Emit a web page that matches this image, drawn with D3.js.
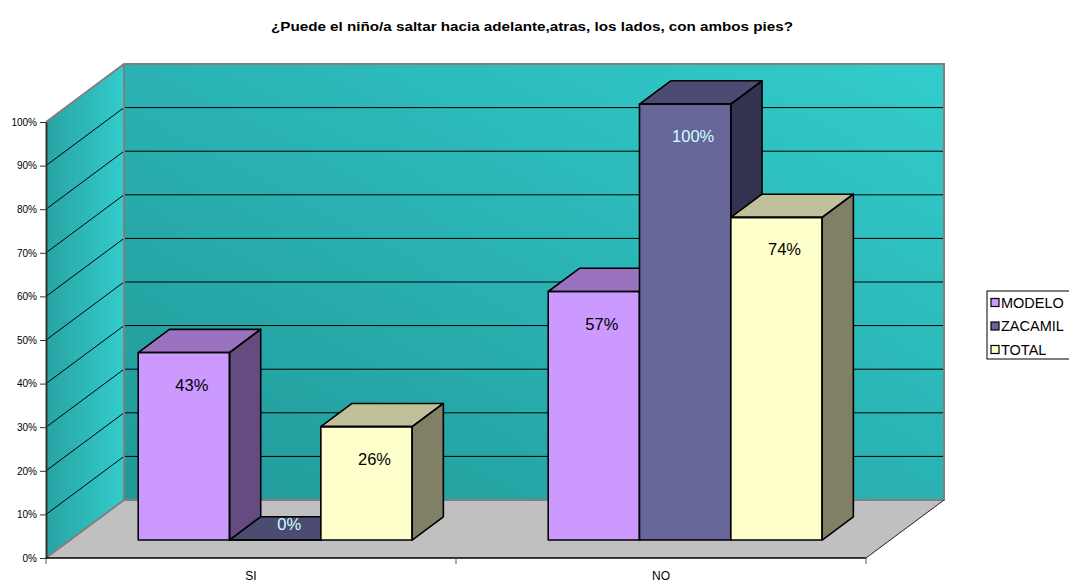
<!DOCTYPE html>
<html>
<head>
<meta charset="utf-8">
<script src="https://cdn.jsdelivr.net/npm/d3@7"></script>
<style>
  body { margin: 0; background: #fff; }
  text { font-family: Arial, "Liberation Sans", sans-serif; }
</style>
</head>
<body>
<div id="chart"></div>
<script>
const chartTitle = "¿Puede el niño/a saltar hacia adelante,atras, los lados, con ambos pies?";
const categories = ["SI", "NO"];
const seriesNames = ["MODELO", "ZACAMIL", "TOTAL"];
const modelo = [0.43, 0.57];
const zacamil = [0, 1];
const total = [0.26, 0.74];
const yTicks = [0, 0.1, 0.2, 0.3, 0.4, 0.5, 0.6, 0.7, 0.8, 0.9, 1];

const seriesValues = [modelo, zacamil, total];

function init() {
  const width = 1069, height = 583;
  const DX = 78, DY = 58;          // depth offset of the 3d box
  const zFront = 0.31, zBack = 0.71; // bar depth inside the box

  const colors = [
    { front: "#CC99FF", top: "#9A73C0", side: "#654C80", label: "#000" },
    { front: "#666699", top: "#4C4C72", side: "#333350", label: "#CCFFFF" },
    { front: "#FFFFCC", top: "#C0C09A", side: "#808066", label: "#000" }
  ];

  const svg = d3.select("#chart").append("svg")
    .attr("width", width)
    .attr("height", height);

  const defs = svg.append("defs");
  const gBack = defs.append("linearGradient").attr("id", "backGrad")
    .attr("x1", 0).attr("y1", 1).attr("x2", 1).attr("y2", 0);
  gBack.append("stop").attr("offset", "0%").attr("stop-color", "#219898");
  gBack.append("stop").attr("offset", "100%").attr("stop-color", "#33CCCC");
  const gSide = defs.append("linearGradient").attr("id", "sideGrad")
    .attr("x1", 0).attr("y1", 0).attr("x2", 1).attr("y2", 0);
  gSide.append("stop").attr("offset", "0%").attr("stop-color", "#28A3A3");
  gSide.append("stop").attr("offset", "100%").attr("stop-color", "#33CCCC");

  const x = d3.scaleBand().domain(categories).range([46, 866]);
  const xs = d3.scaleBand().domain(seriesNames)
    .range([0, x.bandwidth()]).paddingInner(0).paddingOuter(0.745);
  const y = d3.scaleLinear().domain([0, 1]).range([558, 122]);

  const P = (xf, v, z) => [xf + z * DX, y(v) - z * DY];
  const poly = pts => "M" + pts.map(p => p.join(",")).join("L") + "Z";

  // title
  svg.append("text")
    .attr("x", 532).attr("y", 31)
    .attr("text-anchor", "middle")
    .attr("textLength", 522)
    .attr("lengthAdjust", "spacingAndGlyphs")
    .style("font-size", "13px").style("font-weight", "bold")
    .text(chartTitle);

  const x0 = x.range()[0], x1 = x.range()[1];

  // side wall
  svg.append("path")
    .attr("d", poly([P(x0, 0, 0), P(x0, 1, 0), P(x0, 1, 1), P(x0, 0, 1)]))
    .attr("fill", "url(#sideGrad)");
  // back wall
  svg.append("path")
    .attr("d", poly([P(x0, 0, 1), P(x0, 1, 1), P(x1, 1, 1), P(x1, 0, 1)]))
    .attr("fill", "url(#backGrad)");
  // floor
  svg.append("path")
    .attr("d", poly([P(x0, 0, 0), P(x1, 0, 0), P(x1, 0, 1), P(x0, 0, 1)]))
    .attr("fill", "#C0C0C0");

  // gridlines
  const grid = yTicks.filter(v => v > 0 && v < 1);
  svg.append("g").selectAll("path")
    .data(grid).enter().append("path")
    .attr("d", v => "M" + P(x0, v, 0) + "L" + P(x0, v, 1) + "L" + P(x1, v, 1))
    .attr("fill", "none").attr("stroke", "#000").attr("stroke-width", 1);

  // wall borders
  svg.append("path")
    .attr("d", "M" + P(x0, 1, 0) + "L" + P(x0, 1, 1) + "L" + P(x1, 1, 1) + "L" + P(x1, 0, 1)
      + "L" + P(x0, 0, 1) + "L" + P(x0, 1, 1) + "M" + P(x0, 0, 1) + "L" + P(x0, 0, 0))
    .attr("fill", "none").attr("stroke", "#808080").attr("stroke-width", 2);
  svg.append("path")
    .attr("d", "M" + P(x1, 0, 0) + "L" + P(x1, 0, 1))
    .attr("fill", "none").attr("stroke", "#222").attr("stroke-width", 1);

  // axes
  const yAxis = svg.append("g")
    .attr("transform", "translate(" + x0 + ",0)")
    .call(d3.axisLeft(y).tickValues(yTicks).tickFormat(d3.format(".0%")).tickSize(6).tickSizeOuter(0));
  yAxis.select(".domain").attr("stroke", "#333").attr("stroke-width", 2);
  yAxis.selectAll(".tick line").attr("stroke", "#333");
  yAxis.selectAll("text").style("font-size", "10px").attr("fill", "#000")
    .attr("x", -9).attr("font-family", null);

  svg.append("line")
    .attr("x1", x0).attr("x2", x1).attr("y1", y(0)).attr("y2", y(0))
    .attr("stroke", "#000").attr("stroke-width", 1.5);
  const xTicks = [x0].concat(categories.map(c => x(c) + x.bandwidth()));
  svg.append("g").selectAll("line").data(xTicks).enter().append("line")
    .attr("x1", d => d).attr("x2", d => d)
    .attr("y1", y(0)).attr("y2", y(0) + 6)
    .attr("stroke", "#555");
  svg.append("g").selectAll("text").data(categories).enter().append("text")
    .attr("x", d => x(d) + x.bandwidth() / 2)
    .attr("y", 580)
    .attr("text-anchor", "middle")
    .style("font-size", "12px")
    .text(d => d);

  // bars, left to right
  const bars = [];
  categories.forEach((c, ci) => {
    seriesNames.forEach((s, si) => {
      bars.push({ c: c, s: s, si: si, v: seriesValues[si][ci] });
    });
  });

  const g = svg.append("g");
  bars.forEach(b => {
    const xl = x(b.c) + xs(b.s);
    const xr = xl + xs.bandwidth();
    const col = colors[b.si];
    const bg = g.append("g");
    const front = [P(xl, 0, zFront), P(xl, b.v, zFront), P(xr, b.v, zFront), P(xr, 0, zFront)];
    const top = [P(xl, b.v, zFront), P(xl, b.v, zBack), P(xr, b.v, zBack), P(xr, b.v, zFront)];
    const side = [P(xr, 0, zFront), P(xr, b.v, zFront), P(xr, b.v, zBack), P(xr, 0, zBack)];
    bg.append("path").attr("d", poly(front)).attr("fill", col.front);
    bg.append("path").attr("d", poly(top)).attr("fill", col.top);
    bg.append("path").attr("d", poly(side)).attr("fill", col.side);
    [front, top, side].forEach(p => {
      bg.append("path").attr("d", poly(p)).attr("fill", "none")
        .attr("stroke", "#000").attr("stroke-width", 1.6).attr("stroke-linejoin", "round");
    });
    const topY = P(xl, b.v, zFront)[1];
    const baseY = P(xl, 0, zFront)[1];
    const cx = (xl + xr) / 2 + zFront * DX;
    let lx, ly;
    if (baseY - topY > 40) { lx = cx + 8; ly = topY + 38; }
    else { lx = cx + 14; ly = topY - 10; }
    bg.append("text")
      .attr("x", lx).attr("y", ly)
      .attr("text-anchor", "middle")
      .style("font-size", "16.5px")
      .attr("fill", col.label)
      .text(d3.format(".0%")(b.v));
  });

  // legend
  const lg = svg.append("g").attr("transform", "translate(987,291)");
  lg.append("rect").attr("x", 0).attr("y", 0).attr("width", 100).attr("height", 68)
    .attr("fill", "#fff").attr("stroke", "#000").attr("stroke-width", 1);
  const items = lg.selectAll("g.item").data(seriesNames).enter().append("g")
    .attr("transform", (d, i) => "translate(4," + (11.5 + i * 23.5) + ")");
  items.append("rect").attr("x", 0).attr("y", -4).attr("width", 8).attr("height", 8)
    .attr("fill", (d, i) => colors[i].front).attr("stroke", "#000").attr("stroke-width", 1.2);
  items.append("text").attr("x", 10).attr("y", 5)
    .style("font-size", "14.5px")
    .text(d => d);
}
init();
</script>
</body>
</html>
